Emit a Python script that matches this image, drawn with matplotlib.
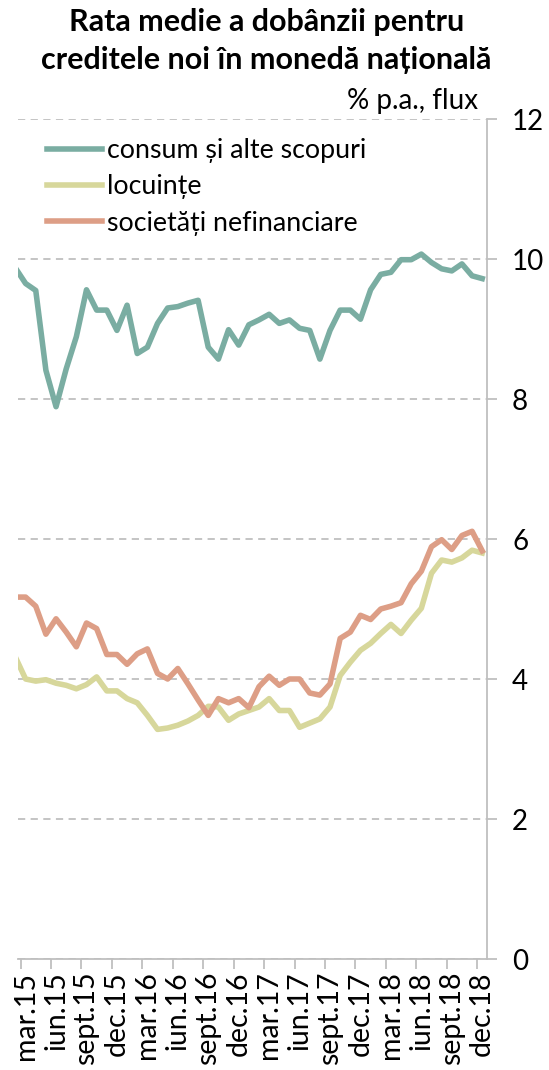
import matplotlib.pyplot as plt
import numpy as np

plt.rcParams['font.family'] = ['Lato', 'DejaVu Sans']

# monthly data, feb.15 .. dec.18
consum = [9.87, 9.65, 9.55, 8.41, 7.89, 8.43, 8.89, 9.56, 9.27, 9.27,
          8.98, 9.34, 8.65, 8.74, 9.08, 9.30, 9.32, 9.37, 9.41, 8.74,
          8.57, 8.99, 8.77, 9.06, 9.13, 9.21, 9.08, 9.13, 9.01, 8.98,
          8.57, 8.98, 9.27, 9.27, 9.14, 9.56, 9.78, 9.81, 9.99, 9.99,
          10.07, 9.95, 9.86, 9.83, 9.93, 9.76, 9.72]
locuinte = [4.31, 4.00, 3.97, 3.99, 3.94, 3.91, 3.86, 3.92, 4.03, 3.83,
            3.83, 3.72, 3.66, 3.48, 3.28, 3.30, 3.34, 3.40, 3.48, 3.61,
            3.60, 3.41, 3.50, 3.55, 3.60, 3.72, 3.55, 3.55, 3.31, 3.37,
            3.43, 3.60, 4.05, 4.24, 4.41, 4.51, 4.65, 4.78, 4.65, 4.84,
            5.01, 5.51, 5.70, 5.67, 5.73, 5.84, 5.80]
societati = [5.17, 5.17, 5.04, 4.64, 4.86, 4.67, 4.46, 4.80, 4.72, 4.35,
             4.35, 4.21, 4.36, 4.43, 4.08, 4.00, 4.15, 3.93, 3.70, 3.48,
             3.72, 3.66, 3.72, 3.59, 3.89, 4.04, 3.91, 4.00, 4.00, 3.80,
             3.77, 3.93, 4.58, 4.67, 4.91, 4.85, 5.00, 5.04, 5.09, 5.36,
             5.54, 5.89, 5.99, 5.85, 6.05, 6.11, 5.83]

labels = ['mar.15', 'iun.15', 'sept.15', 'dec.15', 'mar.16', 'iun.16',
          'sept.16', 'dec.16', 'mar.17', 'iun.17', 'sept.17', 'dec.17',
          'mar.18', 'iun.18', 'sept.18', 'dec.18']

# month index, mar.15 = 0
x = np.arange(len(consum)) - 1

fig = plt.figure(figsize=(5.49, 10.7), dpi=100)
ax = fig.add_axes([18/549, 111/1070, 469/549, 840/1070])

grid_c = '#BFBFBF'
ax.plot(x, consum, color='#7AADA2', lw=4, label='consum și alte scopuri')
ax.plot(x, locuinte, color='#D7D79B', lw=4, label='locuințe')
ax.plot(x, societati, color='#DD9E86', lw=4, label='societăți nefinanciare')

ax.set_xlim(-0.75, 45.47)
ax.set_ylim(0, 12)
ax.set_yticks(np.arange(0, 13, 2))
ax.yaxis.tick_right()
ax.grid(axis='y', color=grid_c, linestyle=(0, (4, 3)), lw=1.3)
ax.set_axisbelow(True)

ax.set_xticks(np.arange(0, 46, 3))
ax.set_xticklabels(labels, rotation=90, fontsize=20.5)
ax.tick_params(axis='x', length=0, pad=9)
ax.set_xticks(np.arange(-0.5, 45, 3), minor=True)
ax.tick_params(axis='x', which='minor', length=7, color=grid_c, width=1.3)
ax.tick_params(axis='y', length=7, color=grid_c, width=1.3, labelsize=20, pad=11)

for s in ['top', 'left']:
    ax.spines[s].set_visible(False)
for s in ['right', 'bottom']:
    ax.spines[s].set_color(grid_c)
    ax.spines[s].set_linewidth(1.3)

ax.legend(loc='upper left', bbox_to_anchor=(0.01, 1.006), frameon=False,
          fontsize=19.3, handlelength=2.05, handletextpad=0.2, labelspacing=0.42)

fig.text(0.485, 1 - 22/1070, 'Rata medie a dobânzii pentru', ha='center', va='center',
         fontsize=22, fontweight='bold')
fig.text(0.485, 1 - 60/1070, 'creditele noi în monedă națională', ha='center', va='center',
         fontsize=22, fontweight='bold')
fig.text(478/549, 1 - 101/1070, '% p.a., flux', ha='right', va='center', fontsize=20)

plt.savefig('out.png', dpi=100)
